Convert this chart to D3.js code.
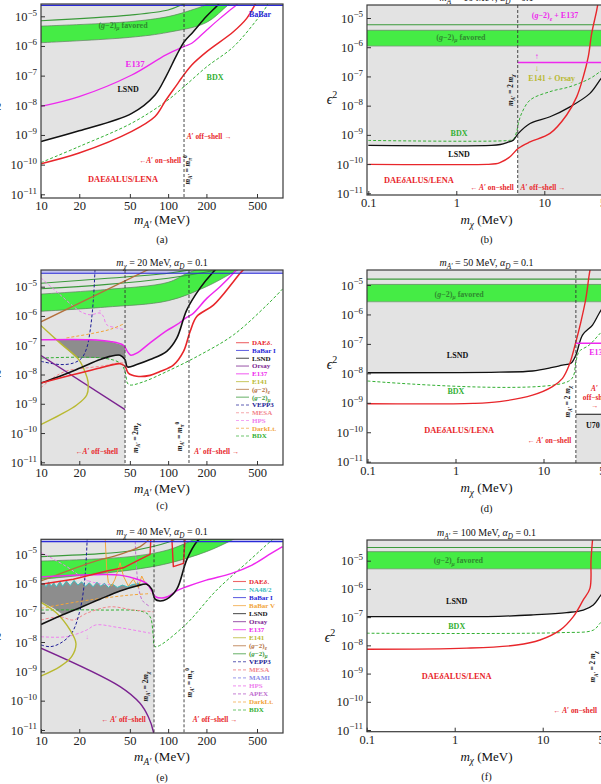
<!DOCTYPE html>
<html>
<head>
<meta charset="utf-8">
<script src="https://cdn.jsdelivr.net/npm/d3@7"></script>
<style>
  body { margin: 0; background: #fff; }
  svg { display: block; }
  text { font-family: "Liberation Serif", "DejaVu Serif", serif; }
</style>
</head>
<body>
<svg id="fig" width="601" height="784"></svg>
<script>
// every curve is a list of [log10 mass (MeV), log10 eps^2]

// ── (a) ──────────────────────────────────────────────────────────────────
const A_GM2_LO = [[1,-5.89],[1.699,-5.71],[2,-5.54],[2.301,-5.21],[2.477,-4.6],[2.6,-4.2]];
const A_GM2_HI = [[1,-5.33],[1.699,-5.18],[2,-5.01],[2.176,-4.8],[2.301,-4.6],[2.4,-4.3]];
const A_GM2_2S = [[1,-5.15],[1.699,-4.96],[2,-4.79],[2.114,-4.6],[2.2,-4.4]];
const A_LSND = [[1,-9.22],[1.3,-8.86],[1.714,-8.27],[1.897,-7.65],[1.983,-7.03],[2.068,-6.30],[2.128,-5.85],[2.198,-5.52],[2.3,-5.01],[2.395,-4.6],[2.45,-4.3]];
const A_E137 = [[1,-8.04],[1.3,-7.71],[1.714,-6.98],[1.983,-6.30],[2.125,-6.02],[2.186,-5.91],[2.304,-5.46],[2.408,-5.07],[2.487,-4.79],[2.54,-4.6],[2.6,-4.3]];
const A_DAE = [[1,-9.97],[1.3,-9.61],[1.714,-8.88],[1.897,-8.38],[1.983,-7.82],[2.068,-7.31],[2.107,-7.07],[2.186,-6.64],[2.304,-6.19],[2.513,-5.52],[2.618,-5.07],[2.684,-4.6],[2.72,-4.3]];
const A_BDX = [[1,-9.93],[1.3,-9.39],[1.714,-8.60],[1.983,-7.87],[2.125,-7.37],[2.304,-6.70],[2.513,-6.03],[2.697,-5.12],[2.776,-4.65],[2.8,-4.4]];
const A_BABAR = -4.63;
const A_VLINES = [2.125];

// ── (b) ──────────────────────────────────────────────────────────────────
const B_GM2 = { line: -5.23, hi: -5.42, lo: -5.96 };
const B_LSND = [[-1,-9.36],[0.4,-9.36],[0.5,-9.33],[0.58,-9.26],[0.648,-9.18],[0.705,-8.95],[0.838,-8.61],[1.065,-8.38],[1.292,-8.04],[1.519,-7.58],[1.633,-7.12],[1.75,-6.6]];
const B_DAE = [[-1,-10.01],[0.35,-10.01],[0.45,-9.99],[0.496,-9.95],[0.61,-9.75],[0.705,-9.46],[0.838,-9.24],[1.065,-8.95],[1.254,-8.32],[1.368,-7.70],[1.443,-7.01],[1.5,-6.32],[1.539,-5.52],[1.596,-4.73],[1.62,-4.3]];
const B_BDX = [[-1,-9.19],[0.6,-9.19],[0.648,-9.15],[0.686,-8.89],[0.705,-8.61],[0.743,-8.26],[0.838,-7.81],[1.065,-7.52],[1.292,-7.35],[1.519,-7.07],[1.633,-6.84],[1.75,-6.6]];
const B_E137 = -6.52;
const B_VLINES = [0.698];

// ── (c) ──────────────────────────────────────────────────────────────────
const C_GM2_LO = [[1,-5.84],[1.5,-5.7],[2,-5.48],[2.3,-5.0],[2.5,-4.54],[2.6,-4.3]];
const C_GM2_HI = [[1,-5.25],[1.5,-5.1],[2,-4.85],[2.15,-4.54],[2.3,-4.3]];
const C_GM2_L1 = [[1,-5.07],[1.5,-4.93],[2.0,-4.71],[2.3,-4.5],[2.4,-4.4]];
const C_GM2_L2 = [[1,-4.88],[1.5,-4.72],[2.0,-4.54],[2.2,-4.4]];
const C_GM2E = [[1,-6.2],[1.85,-4.4]];
const C_LSND = [[1,-8.29],[1.149,-8.06],[1.307,-7.78],[1.464,-7.49],[1.543,-7.38],[1.622,-7.34],[1.661,-7.49],[1.679,-7.74],[1.753,-7.66],[1.858,-7.49],[1.989,-7.21],[2.068,-6.76],[2.146,-5.80],[2.251,-5.05],[2.356,-4.49],[2.4,-4.3]];
const C_E137 = [[1,-6.81],[1.386,-6.81],[1.543,-6.87],[1.648,-7.0],[1.679,-7.21],[1.706,-7.34],[1.753,-7.27],[1.858,-6.92],[1.989,-6.5],[2.068,-6.3],[2.146,-6.05],[2.198,-5.91],[2.304,-5.40],[2.408,-5.0],[2.513,-4.54],[2.56,-4.3]];
const C_DAE = [[1,-8.29],[1.149,-8.12],[1.307,-7.95],[1.464,-7.78],[1.622,-7.63],[1.661,-7.72],[1.687,-7.95],[1.753,-8.06],[1.858,-8.03],[1.936,-7.9],[2.041,-7.68],[2.12,-7.22],[2.172,-6.54],[2.225,-6.02],[2.356,-5.63],[2.513,-4.83],[2.566,-4.54],[2.62,-4.3]];
const C_BDX = [[1,-7.44],[1.49,-7.44],[1.622,-7.61],[1.661,-7.89],[1.679,-8.29],[1.7,-8.36],[1.805,-8.25],[1.989,-7.9],[2.251,-7.33],[2.513,-6.65],[2.776,-5.63],[2.906,-5.05]];
const C_ORSAY = [[1,-7.35],[1.661,-9.2]];
const C_E141 = [[0.98,-6.25],[1.149,-6.92],[1.297,-7.49],[1.35,-7.95],[1.37,-8.25],[1.36,-8.7],[1.281,-9.04],[1.149,-9.38],[0.98,-9.75]];
const C_VEPP3 = [[1,-7.55],[1.149,-7.66],[1.254,-7.61],[1.32,-7.44],[1.36,-7.09],[1.386,-6.52],[1.411,-5.5],[1.425,-4.4]];
const C_HPS = [[1,-4.7],[1.149,-5.27],[1.307,-5.84],[1.386,-5.96],[1.464,-5.9],[1.49,-6.01],[1.517,-6.30],[1.596,-6.41],[1.661,-6.47]];
const C_MESA = [[1,-8.45],[1.1,-8.1],[1.2,-7.88],[1.35,-7.78],[1.5,-7.7],[1.62,-7.6],[1.661,-7.62]];
const C_DARKLT = [[1.2,-6.75],[1.4,-6.6],[1.55,-6.45],[1.661,-6.25]];
const C_DARK = [[1.12,-6.81],[1.386,-6.81],[1.543,-6.87],[1.648,-7.0],[1.661,-7.06],[1.661,-7.49],[1.622,-7.34],[1.543,-7.38],[1.49,-7.44],[1.28,-7.44],[1.149,-6.92]];
const C_BABAR = -4.54;
const C_VLINES = [1.661, 2.164];

// ── (d) ──────────────────────────────────────────────────────────────────
const D_GM2 = { line: -4.80, hi: -4.98, lo: -5.57 };
const D_LSND = [[-1,-7.98],[0.5,-7.96],[0.875,-7.92],[1.1,-7.8],[1.216,-7.72],[1.311,-7.66],[1.368,-7.38],[1.443,-6.70],[1.557,-6.36],[1.633,-5.96],[1.75,-5.4]];
const D_DAE = [[-1,-9.03],[0.2,-9.02],[0.5,-8.96],[0.875,-8.74],[1.102,-8.45],[1.216,-8.17],[1.292,-7.72],[1.368,-6.93],[1.425,-6.25],[1.482,-5.45],[1.519,-4.66],[1.54,-4.3]];
const D_BDX = [[-1,-8.26],[1.3,-8.24],[1.368,-7.6],[1.405,-7.26],[1.519,-7.04],[1.644,-6.64],[1.75,-6.3]];
const D_E137 = -6.98;
const D_U70 = -9.39;
const D_VLINES = [1.368];

// ── (e) ──────────────────────────────────────────────────────────────────
const E_GM2_LO = [[1,-5.86],[1.699,-5.55],[2,-5.32],[2.301,-4.92],[2.477,-4.58],[2.6,-4.3]];
const E_GM2_HI = [[1,-5.24],[1.699,-5.09],[2,-4.86],[2.176,-4.56],[2.3,-4.3]];
const E_GM2_L1 = [[1,-5.09],[1.5,-4.98],[1.699,-4.9],[2,-4.6],[2.1,-4.4]];
const E_GM2E = [[1,-5.92],[1.386,-5.30],[1.622,-5.01],[1.78,-4.75],[1.85,-4.5]];
const E_DAE = [[1,-6.03],[1.254,-5.86],[1.517,-5.58],[1.648,-5.47],[1.779,-5.18],[1.858,-5.01],[1.863,-4.56],[1.865,-4.3]];
const E_DAE2 = [[2.028,-4.3],[2.03,-4.52],[2.041,-5.43],[2.12,-5.32],[2.133,-4.52],[2.135,-4.3]];
const E_LSND = [[1,-7.40],[1.149,-7.11],[1.307,-6.83],[1.464,-6.54],[1.622,-6.26],[1.753,-6.09],[1.832,-6.03],[1.871,-6.20],[1.897,-6.54],[1.936,-6.60],[1.989,-6.54],[2.068,-6.20],[2.146,-5.2],[2.225,-4.58],[2.3,-4.3]];
const E_E137 = [[1,-5.78],[1.3,-5.72],[1.5,-5.70],[1.62,-5.72],[1.75,-5.85],[1.83,-6.0],[1.87,-6.25],[1.9,-6.45],[1.95,-6.5],[2.0,-6.45],[2.07,-6.25],[2.15,-6.11],[2.3,-5.89],[2.5,-5.66],[2.66,-5.38],[2.81,-4.98],[2.9,-4.75]];
const E_NA48 = [[1,-6.10],[1.02,-6.0],[1.04,-6.12],[1.06,-5.95],[1.08,-6.1],[1.10,-5.98],[1.12,-6.12],[1.15,-5.94],[1.17,-6.1],[1.2,-5.92],[1.23,-6.08],[1.26,-5.9],[1.29,-6.06],[1.32,-5.95],[1.35,-6.1],[1.38,-5.98],[1.41,-6.12],[1.44,-5.96],[1.47,-6.1],[1.5,-6.0],[1.53,-6.14],[1.56,-6.02],[1.6,-6.14],[1.64,-6.06],[1.68,-6.12],[1.72,-6.04],[1.75,-6.02],[1.78,-6.0]];
const E_DARK_LOW = [[1.78,-6.05],[1.753,-6.09],[1.622,-6.26],[1.464,-6.54],[1.307,-6.83],[1.17,-7.06],[1.1,-6.85],[1,-6.63]];
const E_E141 = [[0.98,-6.6],[1.124,-7.02],[1.228,-7.59],[1.275,-8.05],[1.241,-8.50],[1.149,-8.84],[0.98,-9.2]];
const E_ORSAY = [[1,-8.21],[1.622,-9.52],[1.779,-10.09],[1.844,-10.55],[1.884,-11.06],[1.89,-11.4]];
const E_VEPP3 = [[1,-8.1],[1.071,-8.16],[1.149,-8.05],[1.241,-7.70],[1.307,-6.91],[1.346,-5.77],[1.364,-4.4]];
const E_BDX = [[1,-6.91],[1.464,-6.91],[1.805,-6.97],[1.858,-7.14],[1.884,-7.82],[1.897,-8.16],[2.12,-7.48],[2.382,-6.23],[2.644,-5.20],[2.802,-4.58],[2.85,-4.4]];
const E_MESA = [[1,-7.25],[1.149,-7.14],[1.254,-7.25],[1.359,-7.02],[1.543,-6.80],[1.726,-6.91],[1.884,-6.97]];
const E_HPS_UP = [[1,-4.95],[1.202,-5.43],[1.359,-5.89],[1.45,-6.0],[1.55,-6.05]];
const E_HPS_LO = [[1,-7.82],[1.2,-7.82],[1.36,-7.59],[1.43,-7.42],[1.6,-7.5],[1.86,-7.7]];
const E_APEX = [[1.74,-4.4],[1.75,-5.4],[1.77,-6.2],[1.8,-6.6],[1.86,-6.8]];
const E_BABARV = [[1.504,-4.4],[1.517,-5.52],[1.53,-5.98],[1.556,-6.09],[1.582,-5.86],[1.608,-5.52],[1.622,-5.30],[1.648,-5.75],[1.687,-6.09],[1.726,-5.86],[1.766,-6.15],[1.792,-5.75],[1.818,-5.98],[1.844,-6.09]];
const E_DARKLT = [[1,-6.85],[1.3,-6.62],[1.5,-6.5],[1.7,-6.4],[1.86,-6.35]];
const E_BABAR = -4.58;
const E_VLINES = [1.889, 2.125];

// ── (f) ──────────────────────────────────────────────────────────────────
const F_GM2 = { line: -4.53, hi: -4.68, lo: -5.29 };
const F_LSND = [[-1,-6.98],[0.5,-6.97],[0.893,-6.92],[1.273,-6.84],[1.461,-6.75],[1.575,-6.57],[1.662,-6.22],[1.75,-5.9]];
const F_BDX = [[-1,-7.57],[1.2,-7.55],[1.575,-7.46],[1.651,-7.22],[1.75,-6.9]];
const F_DAE = [[-1,-8.14],[0.136,-8.1],[0.705,-7.99],[0.969,-7.81],[1.197,-7.46],[1.348,-6.98],[1.461,-6.39],[1.537,-5.98],[1.549,-4.98],[1.568,-4.2]];

const X_TICKS_A = [10, 20, 50, 100, 200, 500];
const X_TICKS_B = [0.1, 1, 10, 50];
const Y_TICKS = [1e-5, 1e-6, 1e-7, 1e-8, 1e-9, 1e-10, 1e-11];

const COL = {
  red: '#e8262b', blue: '#2a2ad8', black: '#111', purple: '#7b2390', magenta: '#ee28ee',
  olive: '#b9b931', brown: '#b4703c', green: '#3a9a3a', navy: '#1c1c96', mesa: '#f2858a',
  hps: '#ee80ee', orange: '#f2a43a', bdx: '#33b033', cyan: '#3bbdbd', mami: '#8a8ae8',
  apex: '#c070d0', band: '#45ec45', gray: '#e3e3e3', dark: '#8d8d8d', babar: '#c2c2ee'
};

const svg = d3.select('#fig');
const defs = svg.append('defs');

// small markup: _{sub} ^{sup} |italic| ; pipes inside sub/sup make it italic
function rich(sel, str, fs) {
  const parts = str.split(/(_\{[^}]*\}|\^\{[^}]*\}|\|[^|]*\|)/).filter(s => s !== '');
  let shift = 0;
  parts.forEach(tok => {
    let txt = tok, off = 0, small = false, it = false;
    if (tok.startsWith('_{')) { txt = tok.slice(2, -1); off = 0.28 * fs; small = true; }
    else if (tok.startsWith('^{')) { txt = tok.slice(2, -1); off = -0.42 * fs; small = true; }
    else if (tok.startsWith('|') && tok.length > 1) { txt = tok.slice(1, -1); it = true; }
    if (small && txt.includes('|')) { txt = txt.replace(/\|/g, ''); it = true; }
    const ts = sel.append('tspan').text(txt);
    if (off !== shift) { ts.attr('dy', off - shift); shift = off; }
    if (small) ts.attr('font-size', fs * 0.72);
    if (it) ts.attr('font-style', 'italic');
  });
}

function text(g, x, y, str, o) {
  const t = g.append('text')
    .attr('x', x).attr('y', y)
    .attr('font-size', o.fs)
    .attr('fill', o.c || '#111')
    .attr('text-anchor', o.anchor || 'middle')
    .attr('font-weight', o.bold ? 'bold' : null);
  if (o.rot) t.attr('transform', `rotate(-90 ${x} ${y})`);
  rich(t, str, o.fs);
  return t;
}

function makePanel(o) {
  const x = d3.scaleLog().domain(o.xd).range(o.xr);
  const y = d3.scaleLog().domain([1e-11, 1e-5]).range(o.yr);
  const id = 'clip-' + o.key;
  defs.append('clipPath').attr('id', id).append('rect')
    .attr('x', o.l).attr('y', o.t).attr('width', o.r - o.l).attr('height', o.b - o.t);
  const g = svg.append('g');
  const plot = g.append('g').attr('clip-path', `url(#${id})`);
  plot.append('rect').attr('x', o.l).attr('y', o.t).attr('width', o.r - o.l).attr('height', o.b - o.t).attr('fill', '#fff');
  const X = v => x(10 ** v), Y = v => y(10 ** v);
  const smooth = d3.line().x(d => X(d[0])).y(d => Y(d[1])).curve(d3.curveCatmullRom.alpha(0.5));
  const lin = d3.line().x(d => X(d[0])).y(d => Y(d[1]));
  return { o, x, y, X, Y, g, plot, smooth, lin, lm: [-2, 3.2] };
}

function curve(p, data, c, o = {}) {
  p.plot.append('path')
    .attr('d', (o.lin ? p.lin : p.smooth)(data))
    .attr('fill', 'none').attr('stroke', c)
    .attr('stroke-width', o.w || (o.dash ? 1 : 1.3))
    .attr('stroke-dasharray', o.dash ? '3,2' : null)
    .attr('stroke-linejoin', 'round');
}
function hline(p, v, c, o = {}) {
  const x0 = o.from !== undefined ? o.from : p.lm[0];
  curve(p, [[x0, v], [p.lm[1], v]], c, Object.assign({ lin: true }, o));
}
function vline(p, v) {
  p.plot.append('line').attr('x1', p.X(v)).attr('x2', p.X(v))
    .attr('y1', p.o.t).attr('y2', p.o.b)
    .attr('stroke', '#333').attr('stroke-width', 0.9).attr('stroke-dasharray', '3,2');
}
function fillAbove(p, data, c) {
  const top = [[data[data.length - 1][0], 0], [data[0][0], 0]];
  p.plot.append('path').attr('d', p.smooth(data) + p.lin(top).replace(/^M/, 'L') + 'Z').attr('fill', c);
}
function fillBetween(p, lo, hi, c, stroke) {
  const d = p.smooth(lo) + p.smooth(hi.slice().reverse()).replace(/^M/, 'L') + 'Z';
  p.plot.append('path').attr('d', d).attr('fill', c)
    .attr('stroke', stroke || 'none').attr('stroke-width', 0.7);
}
function fillRange(p, a, b, lo, hi, c) {
  p.plot.append('rect').attr('x', p.X(a)).attr('width', p.X(b) - p.X(a))
    .attr('y', p.Y(hi)).attr('height', p.Y(lo) - p.Y(hi)).attr('fill', c);
}
function hband(p, gm) {
  fillRange(p, p.lm[0], p.lm[1], gm.lo, gm.hi, COL.band);
  hline(p, gm.hi, '#5d7f5d', { w: 0.7 });
  hline(p, gm.lo, '#7d8f7d', { w: 0.7 });
  hline(p, gm.line, COL.green, { w: 1.1 });
}
function note(p, lm, le, str, c, o = {}) {
  text(p.g, p.X(lm), p.Y(le) + (o.rot ? 0 : 2.7), str, Object.assign({ fs: 8, c, bold: true }, o));
}

function finish(p, lab) {
  const o = p.o;
  p.g.append('rect').attr('x', o.l).attr('y', o.t).attr('width', o.r - o.l).attr('height', o.b - o.t)
    .attr('fill', 'none').attr('stroke', '#3a3a3a').attr('stroke-width', 1.2);
  const xa = p.g.append('g').attr('transform', `translate(0,${o.b})`)
    .call(d3.axisBottom(p.x).tickValues(o.xt).tickSize(-4).tickPadding(3)
      .tickFormat(d => d < 1 ? '0.1' : String(d)));
  xa.select('.domain').remove();
  xa.selectAll('line').attr('stroke', '#333');
  xa.selectAll('text').attr('font-size', 12.5).attr('fill', '#222').attr('font-family', null);
  const ya = p.g.append('g').attr('transform', `translate(${o.l},0)`)
    .call(d3.axisLeft(p.y).tickValues(Y_TICKS).tickSize(-4).tickPadding(4).tickFormat(''));
  ya.select('.domain').remove();
  ya.selectAll('line').attr('stroke', '#333');
  ya.selectAll('text').attr('font-size', 12.5).attr('fill', '#222').attr('font-family', null)
    .each(function (d) { rich(d3.select(this), '10^{−' + Math.round(-Math.log10(d)) + '}', 12.5); });
  const cx = o.l < 300 ? (o.l + o.r) / 2 : 486.5;
  text(svg, cx, o.b + lab.dx, lab.xlab, { fs: 13 });
  text(svg, cx, o.b + lab.dc, lab.cap, { fs: 10.5 });
  text(svg, o.ylx, o.yly, '|ϵ|^{2}', { fs: 14 });
  if (lab.title) text(svg, cx, o.t - 4, lab.title, { fs: 10 });
}

const XLAB_A = '|m|_{|A|′} (MeV)';
const XLAB_B = '|m|_{|χ|} (MeV)';

// ═════ panel (a) ═════
{
  const p = makePanel({ key: 'a', l: 41, r: 283, t: 4, b: 198, xd: [10, 500], xr: [41, 257], yr: [194.3, 16.3], xt: X_TICKS_A, ylx: -4, yly: 116 });
  p.lm = [0.9, 3];
  fillAbove(p, A_LSND, COL.gray);
  fillRange(p, p.lm[0], p.lm[1], A_BABAR, 0, COL.babar);
  fillBetween(p, A_GM2_LO, A_GM2_HI, COL.band, '#5d7f5d');
  curve(p, A_GM2_2S, COL.green, { w: 1.1 });
  curve(p, A_BDX, COL.bdx, { dash: true });
  curve(p, A_E137, COL.magenta);
  curve(p, A_LSND, COL.black, { w: 1.5 });
  curve(p, A_DAE, COL.red, { w: 1.5 });
  hline(p, A_BABAR, COL.blue, { w: 1.2 });
  A_VLINES.forEach(v => vline(p, v));
  note(p, 1.645, -5.29, '(|g|−2)_{|μ|} favored', '#2f8a2f');
  note(p, 1.74, -6.61, 'E137', COL.magenta, { fs: 8.8 });
  note(p, 1.685, -7.45, 'LSND', '#111');
  note(p, 2.369, -7.04, 'BDX', COL.bdx);
  note(p, 2.723, -4.92, 'BaBar', COL.blue);
  note(p, 2.322, -9.03, '|A|′ off−shell →', COL.red, { fs: 7.3 });
  note(p, 1.936, -9.84, '←|A|′ on−shell', COL.red, { fs: 7.3 });
  note(p, 1.645, -10.48, 'DAE|δ|ALUS/LENA', COL.red, { fs: 8.4 });
  note(p, 2.172, -10.18, '|m|_{|A|′} = |m|_{|π|}^{0}', '#111', { rot: true, fs: 7.2 });
  finish(p, { xlab: XLAB_A, cap: '(a)', dx: 26, dc: 45 });
}

// ═════ panel (b) ═════
{
  const p = makePanel({ key: 'b', l: 367, r: 640, t: 5, b: 195, xd: [0.1, 10], xr: [368.3, 544.3], yr: [193.3, 18], xt: X_TICKS_B, ylx: 332, yly: 104 });
  p.lm = [-1.2, 2];
  fillAbove(p, B_LSND, COL.gray);
  fillRange(p, B_VLINES[0], 2, -12, 0, COL.gray);
  hband(p, B_GM2);
  curve(p, B_BDX, COL.bdx, { dash: true });
  curve(p, B_LSND, COL.black, { w: 1.3 });
  curve(p, B_DAE, COL.red, { w: 1.4 });
  hline(p, B_E137, COL.magenta, { from: B_VLINES[0], w: 1.5 });
  B_VLINES.forEach(v => vline(p, v));
  note(p, 0.053, -5.65, '(|g|−2)_{|μ|} favored', '#2f8a2f');
  note(p, 1.122, -4.92, '(|g|−2)_{|e|} + E137', COL.magenta);
  note(p, 0.914, -6.32, '↑', COL.magenta);
  note(p, 0.914, -6.73, '↓', COL.olive);
  note(p, 1.084, -7.05, 'E141 + Orsay', COL.olive);
  note(p, 0.031, -8.94, 'BDX', COL.bdx);
  note(p, 0.031, -9.66, 'LSND', '#111');
  note(p, -0.425, -10.55, 'DAE|δ|ALUS/LENA', COL.red, { fs: 8.4 });
  note(p, 0.405, -10.79, '← |A|′ on−shell', COL.red, { fs: 7.3 });
  note(p, 0.985, -10.79, '|A|′ off−shell →', COL.red, { fs: 7.3 });
  note(p, 0.64, -7.47, '|m|_{|A|′} = 2 |m|_{|χ|}', '#111', { rot: true, fs: 7.2 });
  finish(p, { xlab: XLAB_B, cap: '(b)', title: '|m|_{|A|′} = 10 MeV, |α|_{|D|} = 0.1', dx: 29, dc: 48 });
}

// legend helper
function legend(p, items, x0, y0, step) {
  items.forEach((it, i) => {
    const y = y0 + i * step;
    p.g.append('line').attr('x1', x0).attr('x2', x0 + 13).attr('y1', y).attr('y2', y)
      .attr('stroke', it[1]).attr('stroke-width', 1.1).attr('opacity', 0.7)
      .attr('stroke-dasharray', it[2] ? '3,2' : null);
    text(p.g, x0 + 16, y + 2.4, it[0], { fs: 7, c: it[1], bold: true, anchor: 'start' });
  });
}

// ═════ panel (c) ═════
{
  const p = makePanel({ key: 'c', l: 41, r: 283, t: 270, b: 465, xd: [10, 500], xr: [41, 257], yr: [462.3, 286.7], xt: X_TICKS_A, ylx: -4, yly: 383 });
  p.lm = [0.9, 3];
  fillRange(p, 0.9, C_VLINES[0], -12, 0, COL.gray);
  fillAbove(p, C_LSND, COL.gray);
  p.plot.append('path').attr('d', p.lin(C_DARK) + 'Z').attr('fill', COL.dark);
  fillRange(p, p.lm[0], p.lm[1], C_BABAR, 0, COL.babar);
  fillBetween(p, C_GM2_LO, C_GM2_HI, COL.band, '#5d7f5d');
  curve(p, C_GM2_L1, COL.green, { w: 1.1 });
  curve(p, C_GM2_L2, COL.green, { w: 1.1 });
  curve(p, C_BDX, COL.bdx, { dash: true });
  curve(p, C_MESA, COL.mesa, { dash: true });
  curve(p, C_HPS, COL.hps, { dash: true });
  curve(p, C_DARKLT, COL.orange, { dash: true });
  curve(p, C_VEPP3, COL.navy, { dash: true });
  curve(p, C_GM2E, COL.brown, { lin: true });
  curve(p, C_ORSAY, COL.purple, { lin: true, w: 1.4 });
  curve(p, C_E141, COL.olive, { w: 1.4 });
  curve(p, C_E137, COL.magenta, { w: 1.5 });
  curve(p, C_LSND, COL.black, { w: 1.6 });
  curve(p, C_DAE, COL.red, { w: 1.6 });
  hline(p, C_BABAR, COL.blue, { w: 1.2 });
  C_VLINES.forEach(v => vline(p, v));
  note(p, 1.464, -5.83, '↑', COL.hps, { fs: 7 });
  note(p, 1.438, -10.64, '←|A|′ off−shell', COL.red, { fs: 7.3 });
  note(p, 2.382, -10.64, '|A|′ off−shell →', COL.red, { fs: 7.3 });
  note(p, 1.76, -10.17, '|m|_{|A|′} = 2|m|_{|χ|}', '#111', { rot: true, fs: 7.2 });
  note(p, 2.11, -10.12, '|m|_{|A|′} = |m|_{|π|}^{0}', '#111', { rot: true, fs: 7.2 });
  legend(p, [
    ['DAE|δ|.', COL.red, 0], ['BaBar I', COL.blue, 0], ['LSND', COL.black, 0], ['Orsay', COL.purple, 0],
    ['E137', COL.magenta, 0], ['E141', COL.olive, 0], ['(|g|−2)_{|e|}', COL.brown, 0], ['(|g|−2)_{|μ|}', COL.green, 0],
    ['VEPP3', COL.navy, 1], ['MESA', COL.mesa, 1], ['HPS', COL.hps, 1], ['DarkLt.', COL.orange, 1], ['BDX', COL.bdx, 1]
  ], 236, 342.7, 7.78);
  finish(p, { xlab: XLAB_A, cap: '(c)', title: '|m|_{|χ|} = 20 MeV, |α|_{|D|} = 0.1', dx: 27.5, dc: 44 });
}

// ═════ panel (d) ═════
{
  const p = makePanel({ key: 'd', l: 367, r: 640, t: 270, b: 463, xd: [0.1, 10], xr: [367.5, 543.5], yr: [461.7, 285], xt: X_TICKS_B, ylx: 332, yly: 369 });
  p.lm = [-1.2, 2];
  fillAbove(p, D_LSND, COL.gray);
  fillRange(p, D_VLINES[0], 2, -12, D_U70, COL.gray);
  hband(p, D_GM2);
  curve(p, D_BDX, COL.bdx, { dash: true });
  curve(p, D_LSND, COL.black, { w: 1.3 });
  curve(p, D_DAE, COL.red, { w: 1.4 });
  hline(p, D_E137, COL.magenta, { from: D_VLINES[0], w: 1.4 });
  hline(p, D_U70, COL.black, { from: D_VLINES[0], w: 1.1 });
  D_VLINES.forEach(v => vline(p, v));
  note(p, 0.042, -5.32, '(|g|−2)_{|μ|} favored', '#2f8a2f');
  note(p, 0.023, -7.38, 'LSND', '#111');
  note(p, 0.005, -8.6, 'BDX', COL.bdx);
  note(p, 0.042, -9.92, 'DAE|δ|ALUS/LENA', COL.red, { fs: 8.4 });
  note(p, 1.065, -10.26, '← |A|′ on−shell', COL.red, { fs: 7.3 });
  note(p, 1.58, -8.50, '|A|′', COL.red, { fs: 7.3 });
  note(p, 1.6, -8.80, 'off−shell', COL.red, { fs: 7.3 });
  note(p, 1.58, -9.07, '→', COL.red, { fs: 7.3 });
  note(p, 1.519, -7.27, 'E137', COL.magenta, { anchor: 'start' });
  note(p, 1.482, -9.75, 'U70', '#111', { anchor: 'start' });
  note(p, 1.3, -8.96, '|m|_{|A|′} = 2 |m|_{|χ|}', '#111', { rot: true, fs: 7.2 });
  finish(p, { xlab: XLAB_B, cap: '(d)', title: '|m|_{|A|′} = 50 MeV, |α|_{|D|} = 0.1', dx: 29, dc: 49 });
}

// ═════ panel (e) ═════
{
  const p = makePanel({ key: 'e', l: 41, r: 283, t: 539.3, b: 733, xd: [10, 500], xr: [41, 257], yr: [730, 554], xt: X_TICKS_A, ylx: -4, yly: 646 });
  p.lm = [0.9, 3];
  fillRange(p, 0.9, E_VLINES[0], -12, 0, COL.gray);
  fillAbove(p, E_LSND, COL.gray);
  p.plot.append('path').attr('d', p.lin(E_NA48.concat(E_DARK_LOW)) + 'Z').attr('fill', COL.dark);
  fillRange(p, p.lm[0], p.lm[1], E_BABAR, 0, COL.babar);
  fillBetween(p, E_GM2_LO, E_GM2_HI, COL.band, '#5d7f5d');
  curve(p, E_GM2_L1, COL.green, { w: 1.1 });
  curve(p, E_BDX, COL.bdx, { dash: true });
  curve(p, E_MESA, COL.mesa, { dash: true });
  curve(p, E_HPS_UP, COL.hps, { dash: true });
  curve(p, E_HPS_LO, COL.hps, { dash: true });
  curve(p, E_APEX, COL.apex, { dash: true });
  curve(p, E_DARKLT, COL.orange, { dash: true });
  curve(p, E_VEPP3, COL.navy, { dash: true });
  curve(p, E_NA48, COL.cyan, { lin: true, w: 1 });
  curve(p, E_BABARV, COL.orange, { lin: true, w: 1 });
  curve(p, E_GM2E, COL.brown, { w: 1.3 });
  curve(p, E_ORSAY, COL.purple, { w: 1.4 });
  curve(p, E_E141, COL.olive, { w: 1.4 });
  curve(p, E_E137, COL.magenta, { w: 1.5 });
  curve(p, E_LSND, COL.black, { w: 1.6 });
  curve(p, E_DAE, COL.red, { lin: true, w: 1.4 });
  curve(p, E_DAE2, COL.red, { lin: true, w: 1.4 });
  hline(p, E_BABAR, COL.blue, { w: 1.2 });
  E_VLINES.forEach(v => vline(p, v));
  note(p, 1.364, -5.94, '↑', COL.hps, { fs: 7 });
  note(p, 1.364, -7.82, '↓', COL.hps, { fs: 7 });
  note(p, 1.648, -10.65, '←   |A|′ off−shell', COL.red, { fs: 7.3 });
  note(p, 2.369, -10.65, '|A|′ off−shell →', COL.red, { fs: 7.3 });
  note(p, 1.842, -9.52, '|m|_{|A|′} = 2|m|_{|χ|}', '#111', { rot: true, fs: 7.2 });
  note(p, 2.186, -9.39, '|m|_{|A|′} = |m|_{|π|}^{0}', '#111', { rot: true, fs: 7.2 });
  legend(p, [
    ['DAE|δ|.', COL.red, 0], ['NA48/2', COL.cyan, 0], ['BaBar I', COL.blue, 0], ['BaBar V', COL.orange, 0],
    ['LSND', COL.black, 0], ['Orsay', COL.purple, 0], ['E137', COL.magenta, 0], ['E141', COL.olive, 0],
    ['(|g|−2)_{|e|}', COL.brown, 0], ['(|g|−2)_{|μ|}', COL.green, 0], ['VEPP3', COL.navy, 1], ['MESA', COL.mesa, 1],
    ['MAMI', COL.mami, 1], ['HPS', COL.hps, 1], ['APEX', COL.apex, 1], ['DarkLt.', COL.orange, 1], ['BDX', COL.bdx, 1]
  ], 233, 581.5, 8.03);
  finish(p, { xlab: XLAB_A, cap: '(e)', title: '|m|_{|χ|} = 40 MeV, |α|_{|D|} = 0.1', dx: 28, dc: 47.5 });
}

// ═════ panel (f) ═════
{
  const p = makePanel({ key: 'f', l: 367, r: 640, t: 540, b: 731.7, xd: [0.1, 10], xr: [366.7, 542.7], yr: [730, 560.7], xt: X_TICKS_B, ylx: 330, yly: 642 });
  p.lm = [-1.2, 2];
  fillAbove(p, F_LSND, COL.gray);
  hband(p, F_GM2);
  curve(p, F_BDX, COL.bdx, { dash: true });
  curve(p, F_LSND, COL.black, { w: 1.3 });
  curve(p, F_DAE, COL.red, { w: 1.4 });
  note(p, 0.041, -5.0, '(|g|−2)_{|μ|} favored', '#2f8a2f');
  note(p, 0.023, -6.45, 'LSND', '#111');
  note(p, 0.023, -7.31, 'BDX', COL.bdx);
  note(p, 0.023, -9.11, 'DAE|δ|ALUS/LENA', COL.red, { fs: 8.4 });
  note(p, 1.367, -10.29, '← |A|′ on−shell', COL.red, { fs: 7.3 });
  note(p, 1.6, -8.76, '|m|_{|A|′} = 2 |m|_{|χ|}', '#111', { rot: true, fs: 7.2 });
  finish(p, { xlab: XLAB_B, cap: '(f)', title: '|m|_{|A|′} = 100 MeV, |α|_{|D|} = 0.1', dx: 29, dc: 48 });
}
</script>
</body>
</html>
